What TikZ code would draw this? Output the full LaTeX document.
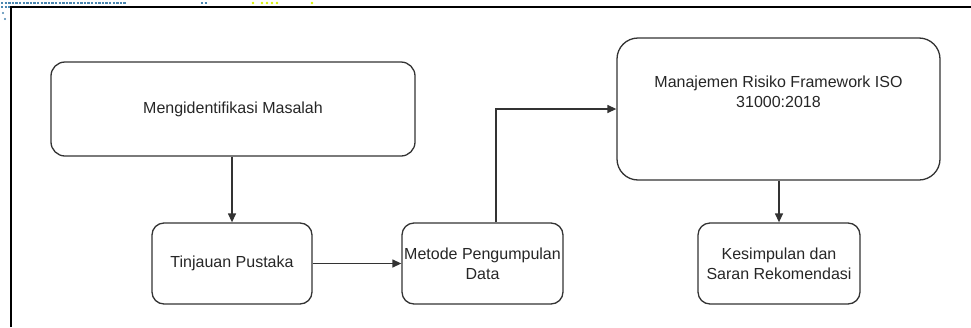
\documentclass[tikz,border=0pt]{standalone}
\usepackage{fontspec}
\setmainfont{Liberation Sans}
\usetikzlibrary{arrows.meta}
\definecolor{strokec}{HTML}{333333}
\definecolor{dotblue}{HTML}{4A86B0}
\definecolor{dotyellow}{HTML}{D8F000}
\begin{document}
\begin{tikzpicture}[x=1pt,y=-1pt,
  box/.style={draw=strokec,line width=1.3pt,align=center,inner sep=0pt,
    font=\fontsize{16}{20}\selectfont,text=black!85},
  conn/.style={draw=strokec,line width=1.3pt,-{Triangle[length=9pt,width=8pt]}}]
\useasboundingbox (0,0) rectangle (971,327);
% top-left screenshot artifacts
\draw[dotblue,line width=2.4pt,dash pattern=on 2.4pt off 1.2pt] (1,3) -- (126,3);
\draw[dotblue,line width=2.4pt,dash pattern=on 2.4pt off 1.2pt] (1,7) -- (10,7);
\draw[dotblue,line width=2.4pt,dash pattern=on 2.4pt off 1.2pt] (201,3) -- (208,3);
\fill[dotblue] (3,13) circle (1.2pt) (5,19) circle (1.2pt);
\foreach \xx in {253,262,267,272,277,312}{\fill[dotyellow] (\xx,3) circle (1.4pt);}
% frame
\draw[black,line width=1.3pt] (11,327) -- (11,7) -- (971,7);
% boxes
\node[box,rounded corners=14pt,minimum width=364pt,minimum height=94pt] (b1) at (233,109) {Mengidentifikasi Masalah};
\node[box,rounded corners=12pt,minimum width=160pt,minimum height=81pt] (b2) at (232,263.5) {Tinjauan Pustaka};
\node[box,rounded corners=12pt,minimum width=161pt,minimum height=81pt] (b3) at (482.5,263.5) {Metode Pengumpulan\\Data};
\node[box,rounded corners=21pt,minimum width=323pt,minimum height=142pt] (b4) at (778.5,109) {Manajemen Risiko Framework ISO\\31000:2018\\[14pt]};
\node[box,rounded corners=12pt,minimum width=162pt,minimum height=81pt] (b5) at (779,263.5) {Kesimpulan dan\\Saran Rekomendasi};
% connectors
\coordinate (turn) at (496,109);
\draw[conn] (b1.south -| b2.north) -- (b2.north);
\draw[conn] (b2.east) -- (b3.west);
\draw[conn] (b3.north -| turn) |- (b4.west);
\draw[conn] (b4.south -| b5.north) -- (b5.north);
\end{tikzpicture}
\end{document}
